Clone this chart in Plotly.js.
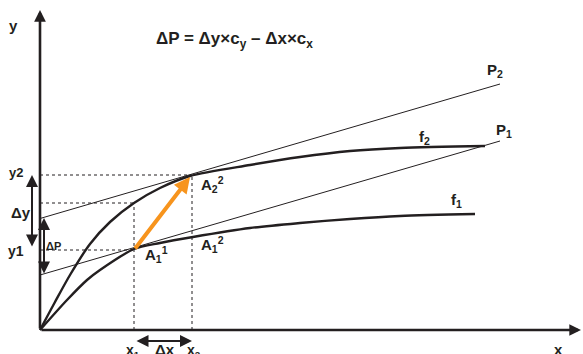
<!DOCTYPE html>
<html>
<head>
<meta charset="utf-8">
<script src="https://cdn.plot.ly/plotly-3.0.1.min.js"></script>
<style>
  body { margin: 0; background: #fff; }
  #plotArea { width: 583px; height: 354px; }
</style>
</head>
<body>
<div id="plotArea"></div>
<script>
// curves (origin of the axes = 0,0)
var f2X = [0, 15, 30, 50, 70, 94, 120, 150, 210, 260, 310, 360, 445];
var f2Y = [0, 28, 55, 86, 108, 127, 142, 154, 165, 173, 179, 182, 184];
var f1X = [0, 27, 47, 60, 94, 120, 153, 210, 260, 310, 360, 435];
var f1Y = [0, 30, 50, 60, 81, 87, 93, 102, 107, 111, 114, 116];

// budget lines P1, P2
var pX = [0, 460];
var p1Y = [55, 189];
var p2Y = [111.5, 246];

// points on the axes
var x1 = 94, x2 = 152;
var y1 = 80, y2 = 155, yMid = 127;

var ink = "#231f20";

var lines = function (x, y, w, dash) {
    return {x: x, y: y, mode: "lines", hoverinfo: "skip",
        line: {color: ink, width: w, dash: dash || "solid", shape: "spline", smoothing: 0.8}};
};

var traces = [
    lines(f2X, f2Y, 2.4),
    lines(f1X, f1Y, 2.4),
    lines(pX, p1Y, 1),
    lines(pX, p2Y, 1),
    lines([0, x2], [y2, y2], 1, "3px,3px"),
    lines([0, x1], [yMid, yMid], 1, "3px,3px"),
    lines([0, x1], [y1, y1], 1, "3px,3px"),
    lines([x1, x1], [0, yMid], 1, "3px,3px"),
    lines([x2, x2], [0, y2], 1, "3px,3px")
];

var txt = function (x, y, text, size) {
    return {x: x, y: y, xref: "x", yref: "y", text: text, showarrow: false,
        font: {family: "Liberation Sans, Arial", size: size || 15, color: ink, weight: "bold"}};
};

var arrow = function (x, y, ax, ay, opts) {
    var a = {x: x, y: y, ax: ax, ay: ay, xref: "x", yref: "y", axref: "x", ayref: "y",
        text: "", showarrow: true, arrowhead: 2, arrowsize: 1, arrowwidth: 2,
        arrowcolor: ink, standoff: 0, startstandoff: 0};
    return Object.assign(a, opts || {});
};

var notes = [
    arrow(0, 320, 0, 0, {arrowwidth: 2.6, arrowsize: 0.9}),
    arrow(541, 0, 0, 0, {arrowwidth: 2.6, arrowsize: 0.9}),
    arrow(150, 153, x1, y1, {arrowcolor: "#f7941d", arrowwidth: 4, arrowsize: 0.8}),
    arrow(-8, 155, -8, 82, {arrowside: "end+start", arrowsize: 1.2}),
    arrow(4, 112, 4, 55, {arrowside: "end+start", arrowsize: 1.2}),
    arrow(152, -11, 95, -11, {arrowside: "end+start", arrowsize: 1.2}),

    txt(194, 290, "ΔP = Δy×c<sub>y</sub> – Δx×c<sub>x</sub>", 17),
    txt(-27, 305, "y"),
    txt(518, -19, "x"),
    txt(455, 260, "P<sub>2</sub>"),
    txt(464, 200, "P<sub>1</sub>"),
    txt(384, 193, "f<sub>2</sub>"),
    txt(416, 130, "f<sub>1</sub>"),
    txt(172, 146, "A<sub>2</sub><sup>2</sup>"),
    txt(172, 86, "A<sub>1</sub><sup>2</sup>"),
    txt(116, 76, "A<sub>1</sub><sup>1</sup>"),
    txt(-24, 158, "y2", 13),
    txt(-19, 118, "Δy", 15),
    txt(-24, 79, "y1", 14),
    txt(13, 84, "ΔP", 11),
    txt(93, -21, "x<sub>1</sub>", 14),
    txt(125, -19, "Δx", 15),
    txt(154, -21, "x<sub>2</sub>", 14)
];

var layout = {
    width: 583,
    height: 354,
    margin: {l: 0, r: 0, t: 0, b: 0},
    showlegend: false,
    paper_bgcolor: "#fff",
    plot_bgcolor: "#fff",
    xaxis: {range: [-40, 543], visible: false, fixedrange: true},
    yaxis: {range: [-24, 330], visible: false, fixedrange: true},
    annotations: notes
};

Plotly.newPlot("plotArea", traces, layout, {displayModeBar: false, staticPlot: true});
</script>
</body>
</html>
